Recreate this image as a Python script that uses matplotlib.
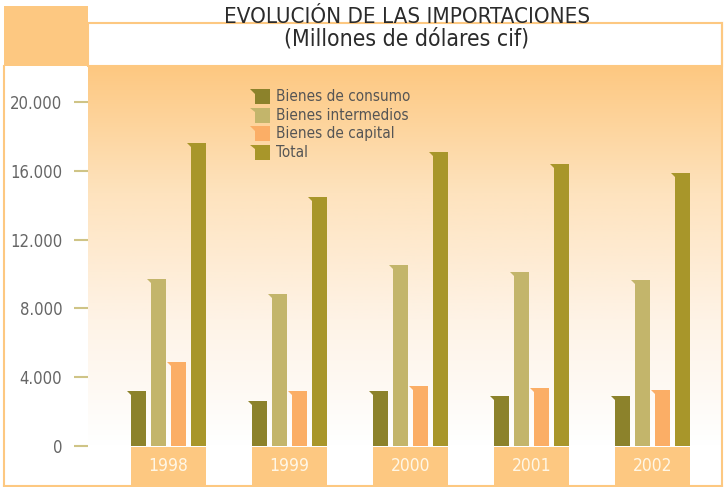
import matplotlib
matplotlib.use("Agg")
import matplotlib.pyplot as plt
import numpy as np
from matplotlib.patches import Rectangle, Polygon
from matplotlib.colors import LinearSegmentedColormap
from matplotlib import font_manager

# ---------------- data ----------------
years = ["1998", "1999", "2000", "2001", "2002"]
series_names = ["Bienes de consumo", "Bienes intermedios", "Bienes de capital", "Total"]
consumo = [3200, 2600, 3200, 2900, 2900]
intermedios = [9700, 8850, 10550, 10100, 9650]
capital = [4900, 3200, 3500, 3400, 3250]
total = [17600, 14500, 17100, 16400, 15900]
yticks = [0, 4000, 8000, 12000, 16000, 20000]
title = "EVOLUCIÓN DE LAS IMPORTACIONES"
subtitle = "(Millones de dólares cif)"

colors = ["#8C822B", "#C3B56B", "#FBAE66", "#A8962A"]
orange = "#FDC881"

names = {f.name for f in font_manager.fontManager.ttflist}
FONT = ["DejaVu Sans"]
STRETCH = "condensed"
if "Liberation Sans Narrow" in names:
    FONT = ["Liberation Sans Narrow", "DejaVu Sans"]
    STRETCH = "normal"

def fp(size):
    return dict(family=FONT, fontstretch=STRETCH, fontsize=size)

W, H = 725, 487
fig = plt.figure(figsize=(W / 100, H / 100), dpi=100)
fig.patch.set_facecolor("white")

def fx(px):
    return px / W

def fy(py):
    return 1 - py / H

# header decorations
fig.patches.append(Rectangle((fx(4), fy(66)), fx(84), 60 / H, transform=fig.transFigure,
                             facecolor=orange, edgecolor="none", zorder=0))
fig.patches.append(Rectangle((fx(88), fy(66)), fx(634), 43 / H, transform=fig.transFigure,
                             facecolor="white", edgecolor=orange, lw=1.5, zorder=0))
# outer frame lines
fig.lines.append(plt.Line2D([fx(4), fx(4)], [fy(66), fy(486)], transform=fig.transFigure,
                            color=orange, lw=1.5))
fig.lines.append(plt.Line2D([fx(4), fx(722)], [fy(486), fy(486)], transform=fig.transFigure,
                            color=orange, lw=1.5))
fig.lines.append(plt.Line2D([fx(722), fx(722)], [fy(23), fy(486)], transform=fig.transFigure,
                            color=orange, lw=1.5))

fig.text(fx(407), fy(23), title, ha="center", va="baseline", color="#2b2b2b", **fp(16))
fig.text(fx(407), fy(45), subtitle, ha="center", va="baseline", color="#2b2b2b", **fp(16.5))

# ---------------- axes ----------------
px_per_unit = 344 / 20000.0
ybot = -(486 - 446) / px_per_unit
ytop = (446 - 66) / px_per_unit
gspace = 121.0  # px per group
xmin = (88 - 168.5) / gspace
xmax = (722 - 168.5) / gspace

ax = fig.add_axes([fx(88), 1 / H, 634 / W, 420 / H])
ax.set_xlim(xmin, xmax)
ax.set_ylim(ybot, ytop)
for s in ax.spines.values():
    s.set_visible(False)
ax.set_facecolor("white")

# gradient background
cmap = LinearSegmentedColormap.from_list("g", ["white", "#FEF3E6", "#FEE3BE", orange])
grad = np.linspace(0, 1, 256).reshape(-1, 1)
ax.imshow(grad, aspect="auto", cmap=cmap, origin="lower",
          extent=[xmin, xmax, 0, ytop], zorder=0)

x = np.arange(len(years))
bw = 15 / gspace
step = 19.8 / gspace
dx_tab = 4 / gspace
dy_tab = 4 / px_per_unit
all_series = [consumo, intermedios, capital, total]
for i, (vals, c) in enumerate(zip(all_series, colors)):
    xs = x + (i - 1.5) * step
    bars = ax.bar(xs, vals, width=bw, color=c, zorder=3, edgecolor="none")
    for b in bars:
        x0 = b.get_x()
        top = b.get_height()
        ax.add_patch(Polygon([(x0 - dx_tab, top), (x0, top), (x0, top - dy_tab)],
                             closed=True, facecolor=c, edgecolor="none", zorder=3))

# year boxes
box_top = -(447 - 446) / px_per_unit
for xi, yr in zip(x, years):
    ax.add_patch(Rectangle((xi - 0.31, ybot), 0.62, box_top - ybot, facecolor=orange,
                           edgecolor="none", zorder=2))
    ax.text(xi, -(466 - 446) / px_per_unit, yr, ha="center", va="center",
            color="#FFF7E6", zorder=4, **fp(12.5))

ax.set_xticks([])
ax.set_yticks(yticks)
ax.set_yticklabels([f"{v:,}".replace(",", ".") for v in yticks])
for lab in ax.get_yticklabels():
    lab.set_family(FONT)
    lab.set_stretch(STRETCH)
    lab.set_fontsize(12)
    lab.set_color("#666666")
ax.tick_params(axis="y", length=10, width=1.5, color="#CFC486", pad=8.5, direction="out")

# legend (manual)
for i, (name, c) in enumerate(zip(series_names, colors)):
    cy = 96.5 + i * 18.6
    fig.patches.append(Rectangle((fx(255), fy(cy + 7.5)), 15 / W, 15 / H,
                                 transform=fig.transFigure, facecolor=c, edgecolor="none"))
    fig.patches.append(Polygon([(fx(250), fy(cy - 7.5)), (fx(255), fy(cy - 7.5)),
                                (fx(255), fy(cy - 3))], closed=True,
                               transform=fig.transFigure, facecolor=c, edgecolor="none"))
    fig.text(fx(276), fy(cy), name, ha="left", va="center", color="#555555", **fp(11))

fig.savefig("out.png", dpi=100, facecolor="white")
